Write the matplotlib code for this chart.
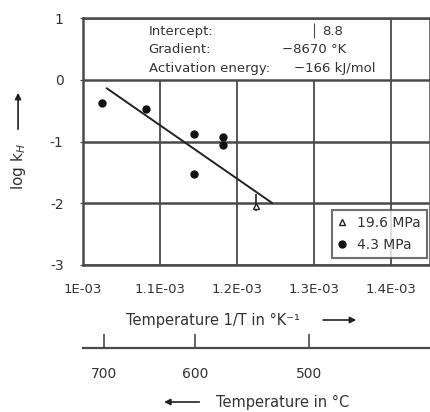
import numpy as np
import matplotlib
matplotlib.use("Agg")
import matplotlib.pyplot as plt
from matplotlib.lines import Line2D
from matplotlib.patches import FancyArrowPatch

plt.rcParams['font.family'] = ['DejaVu Sans']

# data
x_43 = [1.025e-3, 1.082e-3, 1.144e-3, 1.182e-3, 1.182e-3, 1.144e-3]
y_43 = [-0.37, -0.48, -0.87, -0.93, -1.06, -1.53]
x_196 = [1.225e-3]
y_196 = [-2.05]
err_196 = [[0.08], [0.2]]
intercept = 8.8
gradient = -8670
fit_x = [1.031e-3, 1.245e-3]
xticks = [1.0e-3, 1.1e-3, 1.2e-3, 1.3e-3, 1.4e-3]
xticklabels = ['1E-03', '1.1E-03', '1.2E-03', '1.3E-03', '1.4E-03']
yticks = [-3, -2, -1, 0, 1]
celsius = [700, 600, 500]

gc = '#4a4a4a'
tc = '#333333'

fig = plt.figure(figsize=(4.3, 4.12), dpi=100)
ax = fig.add_axes([0.193, 0.357, 0.807, 0.599])
ax.set_xlim(1.0e-3, 1.45e-3)
ax.set_ylim(-3, 1)

# grid: integer lines full width, vertical lines stop under the text block
for y in yticks:
    ax.axhline(y, color=gc, lw=1.8, zorder=1)
ax.vlines(xticks[1:4], -3, 0, color=gc, lw=1.3, zorder=1)
ax.vlines(xticks[4], -3, 1, color=gc, lw=1.3, zorder=1)

for s in ax.spines.values():
    s.set_color(gc)
    s.set_linewidth(1.8)

fx = np.array(fit_x)
ax.plot(fx, intercept + gradient * fx, color='#222222', lw=1.4, zorder=3)
ax.plot(x_43, y_43, 'o', color='#111111', ms=5, zorder=4)
ax.errorbar(x_196, y_196, yerr=err_196, fmt='^', color='#222222', mfc='white',
            ms=4, elinewidth=1.2, capsize=0, zorder=4)

ax.set_xticks(xticks)
ax.set_xticklabels(xticklabels)
ax.set_yticks(yticks)
ax.set_yticklabels(['-3', '-2', '-1', '0', '1'])
ax.tick_params(axis='x', length=0, pad=13, labelsize=9.5, labelcolor=tc)
ax.tick_params(axis='y', length=2, pad=12, labelsize=10, labelcolor=tc, color=gc)

# fit summary
fs = 9.5
ax.text(1.085e-3, 0.79, 'Intercept:', fontsize=fs, color=tc, va='center')
ax.text(1.085e-3, 0.49, 'Gradient:', fontsize=fs, color=tc, va='center')
ax.text(1.085e-3, 0.18, 'Activation energy:', fontsize=fs, color=tc, va='center')
ax.text(1.310e-3, 0.79, '8.8', fontsize=fs, color=tc, va='center')
ax.text(1.258e-3, 0.49, '\u22128670 \u00b0K', fontsize=fs, color=tc, va='center')
ax.text(1.273e-3, 0.18, '\u2212166 kJ/mol', fontsize=fs, color=tc, va='center')
ax.vlines(1.300e-3, 0.67, 0.92, color=gc, lw=0.8)

handles = [Line2D([], [], marker='^', ls='none', color='#222222', mfc='white', ms=5),
           Line2D([], [], marker='o', ls='none', color='#111111', ms=5)]
leg = ax.legend(handles, ['19.6 MPa', '4.3 MPa'], loc='lower right',
                bbox_to_anchor=(0.992, 0.028), fontsize=10, frameon=True,
                fancybox=False, handlelength=0.6, handletextpad=0.8,
                borderpad=0.45, labelspacing=0.55, borderaxespad=0)
leg.get_frame().set_edgecolor(gc)
leg.get_frame().set_linewidth(1.5)
for t in leg.get_texts():
    t.set_color(tc)

# y label with arrow
fig.text(0.042, 1 - 167 / 412, 'log k$_H$', rotation=90, fontsize=11, color=tc,
         ha='center', va='center')
fig.patches.append(FancyArrowPatch(
    (0.042, 1 - 132 / 412), (0.042, 1 - 90 / 412), transform=fig.transFigure,
    arrowstyle='-|>', mutation_scale=9, color='#222222', lw=1.2))

# x label with arrow
fig.text(0.495, 1 - 320 / 412, 'Temperature 1/T in \u00b0K\u207b\u00b9', fontsize=10.5,
         color=tc, ha='center', va='center')
fig.patches.append(FancyArrowPatch(
    (0.745, 1 - 320 / 412), (0.835, 1 - 320 / 412), transform=fig.transFigure,
    arrowstyle='-|>', mutation_scale=9, color='#222222', lw=1.2))

# Celsius scale
ax2 = fig.add_axes([0.193, 1 - 348 / 412, 0.807, 0.001])
ax2.set_xlim(ax.get_xlim())
ax2.set_yticks([])
for k in ['top', 'left', 'right']:
    ax2.spines[k].set_visible(False)
ax2.spines['bottom'].set_color(gc)
ax2.spines['bottom'].set_linewidth(1.6)
ax2.set_xticks([1 / (c + 273.15) for c in celsius])
ax2.set_xticklabels([str(c) for c in celsius])
ax2.tick_params(axis='x', direction='in', length=10, width=1.2, color=gc,
                pad=14, labelsize=10, labelcolor=tc)

fig.text(0.658, 1 - 402 / 412, 'Temperature in \u00b0C', fontsize=10.5,
         color=tc, ha='center', va='center')
fig.patches.append(FancyArrowPatch(
    (0.47, 1 - 402 / 412), (0.375, 1 - 402 / 412), transform=fig.transFigure,
    arrowstyle='-|>', mutation_scale=9, color='#222222', lw=1.2))

fig.savefig('out.png', dpi=100)
